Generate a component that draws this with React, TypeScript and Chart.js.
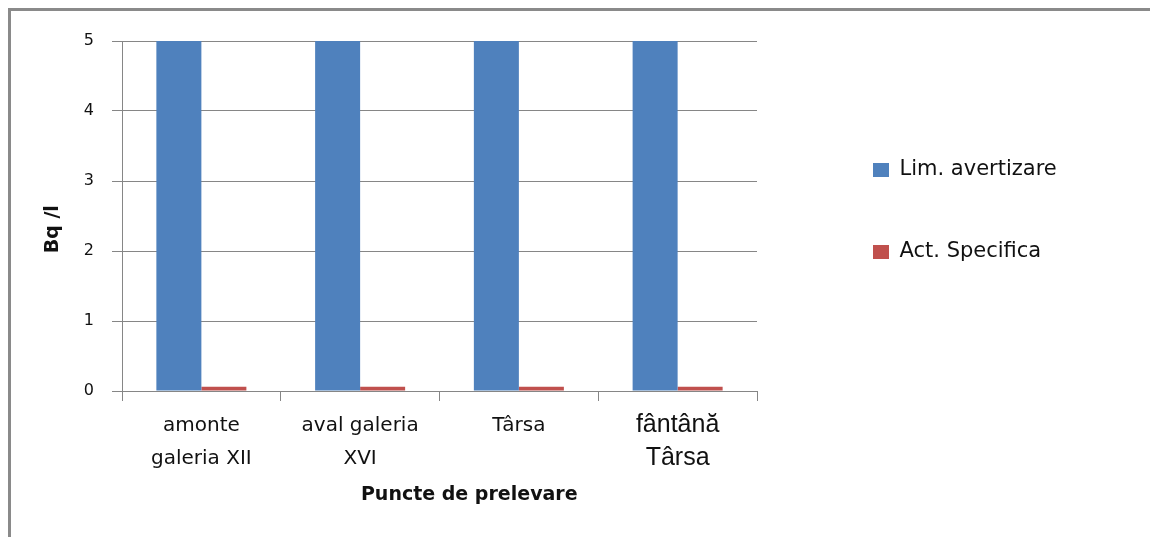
import React, { useEffect, useRef } from "react";
import { Chart, registerables } from "chart.js";

Chart.register(...registerables);

const categories = [
  ["amonte", "galeria XII"],
  ["aval galeria", "XVI"],
  ["Târsa"],
  ["fântână", "Târsa"],
];
const seriesNames = ["Lim. avertizare", "Act. Specifica"];
const limAvertizare = [5, 5, 5, 5];
const actSpecifica = [0.06, 0.06, 0.06, 0.06];
const yTickValues = [0, 1, 2, 3, 4, 5];
const yTitle = "Bq /l    ";
const xTitle = "         Puncte de prelevare";

const GRID = "#868686";
const TEXT = "#111111";

const legendShift = {
  id: "legendShift",
  afterLayout(chart: any) {
    const lg = chart.legend;
    if (lg) {
      lg.top -= 5;
      lg.bottom -= 5;
    }
  },
};

export default function App() {
  const ref = useRef<HTMLCanvasElement | null>(null);

  useEffect(() => {
    if (!ref.current) return;
    const chart = new Chart(ref.current, {
      type: "bar",
      data: {
        labels: categories,
        datasets: [
          {
            label: seriesNames[0],
            data: limAvertizare,
            backgroundColor: "#4F81BD",
            borderWidth: 0,
            categoryPercentage: 0.567,
            barPercentage: 1,
          },
          {
            label: seriesNames[1],
            data: actSpecifica,
            backgroundColor: "#C0504D",
            borderWidth: 0,
            categoryPercentage: 0.567,
            barPercentage: 1,
          },
        ],
      },
      plugins: [legendShift],
      options: {
        responsive: false,
        animation: false,
        layout: { padding: { top: 41, left: 0, right: 90, bottom: 0 } },
        plugins: {
          tooltip: { enabled: false },
          legend: {
            position: "right",
            fullSize: false,
            maxWidth: 248,
            labels: {
              boxWidth: 16,
              boxHeight: 14,
              padding: 61,
              color: TEXT,
              font: { family: "DejaVu Sans", size: 21 },
            },
          },
        },
        scales: {
          x: {
            type: "category",
            offset: true,
            grid: {
              display: true,
              offset: true,
              drawOnChartArea: false,
              drawTicks: true,
              tickLength: 10,
              color: GRID,
              lineWidth: 1,
            },
            border: { display: true, color: GRID, width: 1 },
            ticks: {
              color: TEXT,
              padding: 8,
              maxRotation: 0,
              autoSkip: false,
              font: (ctx: any) =>
                ctx.index === 3
                  ? { family: "Liberation Sans", size: 25, lineHeight: 33 / 25 }
                  : { family: "DejaVu Sans", size: 20, lineHeight: 33 / 20 },
            },
            title: {
              display: true,
              text: xTitle,
              color: TEXT,
              font: { family: "DejaVu Sans", size: 19, weight: "bold" },
              padding: { top: 0, bottom: 31 },
            },
            afterFit: (s: any) => {
              s.height = 146;
            },
          },
          y: {
            type: "linear",
            position: "left",
            min: 0,
            max: 5,
            afterBuildTicks: (s: any) => {
              s.ticks = yTickValues.map((v) => ({ value: v }));
            },
            grid: {
              color: GRID,
              lineWidth: 1,
              drawTicks: true,
              tickLength: 10,
            },
            border: { display: true, color: GRID, width: 1 },
            ticks: {
              color: TEXT,
              padding: 18,
              font: { family: "DejaVu Sans", size: 16 },
            },
            title: {
              display: true,
              text: yTitle,
              color: TEXT,
              font: { family: "DejaVu Sans", size: 19, weight: "bold" },
              padding: { top: 42, bottom: 0 },
            },
            afterFit: (s: any) => {
              s.width = 122;
            },
          },
          spacer: {
            type: "linear",
            position: "right",
            display: true,
            grid: { display: false },
            border: { display: false },
            ticks: { display: false },
            afterFit: (s: any) => {
              s.width = 55;
            },
          },
        },
      },
    });
    return () => chart.destroy();
  }, []);

  return (
    <div
      style={{
        position: "fixed",
        left: 0,
        top: 0,
        width: 1150,
        height: 537,
        overflow: "hidden",
        background: "#ffffff",
      }}
    >
      <div
        style={{
          position: "absolute",
          left: 8,
          top: 8,
          width: 1200,
          height: 600,
          borderLeft: "3px solid #8a8a8a",
          borderTop: "3px solid #8a8a8a",
          boxSizing: "border-box",
        }}
      />
      <canvas
        ref={ref}
        width={1150}
        height={537}
        style={{ position: "absolute", left: 0, top: 0, display: "block" }}
      />
    </div>
  );
}
